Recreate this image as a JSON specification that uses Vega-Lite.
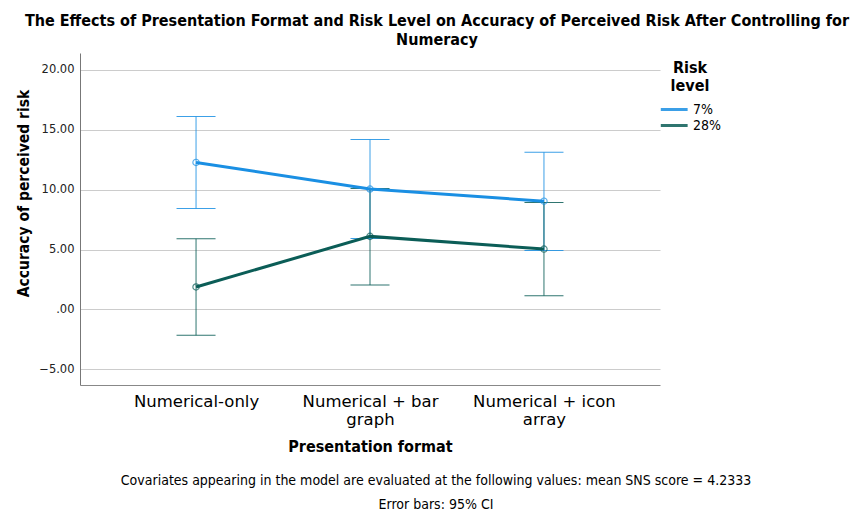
{
  "$schema": "https://vega.github.io/schema/vega-lite/v6.json",
  "autosize": {"type": "none"},
  "padding": {"left": 80, "top": 53, "right": 772, "bottom": 459},
  "background": "white",
  "title": {
    "text": ["The Effects of Presentation Format and Risk Level on Accuracy of Perceived Risk After Controlling for", "Numeracy"],
    "font": "DejaVu Sans Condensed, sans-serif",
    "fontSize": 16,
    "fontWeight": "bold",
    "lineHeight": 19,
    "color": "#000000",
    "anchor": "middle",
    "dx": 53,
    "offset": 5
  },
  "config": {
    "view": {"stroke": null},
    "font": "DejaVu Sans Condensed, sans-serif"
  },
  "vconcat": [
    {
      "width": 580,
      "height": 332,
      "title": {
        "text": "Covariates appearing in the model are evaluated at the following values: mean SNS score = 4.2333",
        "subtitle": "Error bars: 95% CI",
        "orient": "bottom",
        "anchor": "middle",
        "dx": 66,
        "font": "DejaVu Sans Condensed, sans-serif",
        "subtitleFont": "DejaVu Sans Condensed, sans-serif",
        "fontSize": 14,
        "fontWeight": "normal",
        "subtitleFontSize": 14,
        "subtitlePadding": 10,
        "color": "#000000",
        "subtitleColor": "#000000",
        "offset": 19
      },
      "data": {
        "values": [
          {"format": "Numerical-only", "risk": "7%", "mean": 12.27, "lower": 8.43, "upper": 16.10},
          {"format": "Numerical-only", "risk": "28%", "mean": 1.88, "lower": -2.15, "upper": 5.90},
          {"format": "Numerical + bar graph", "risk": "7%", "mean": 10.05, "lower": 5.93, "upper": 14.18},
          {"format": "Numerical + bar graph", "risk": "28%", "mean": 6.10, "lower": 2.04, "upper": 10.10},
          {"format": "Numerical + icon array", "risk": "7%", "mean": 9.04, "lower": 4.93, "upper": 13.12},
          {"format": "Numerical + icon array", "risk": "28%", "mean": 5.04, "lower": 1.15, "upper": 8.93}
        ]
      },
      "encoding": {
        "x": {
          "field": "format",
          "type": "nominal",
          "sort": ["Numerical-only", "Numerical + bar graph", "Numerical + icon array"],
          "scale": {"type": "point", "padding": 0.667},
          "axis": {
            "title": "Presentation format",
            "titleFont": "DejaVu Sans Condensed, sans-serif",
            "titleFontSize": 16,
            "titleFontWeight": "bold",
            "titleColor": "#000000",
            "titlePadding": 11,
            "labelAngle": 0,
            "labelFont": "DejaVu Sans, sans-serif",
            "labelFontSize": 16.5,
            "labelColor": "#000000",
            "labelLineHeight": 18,
            "labelPadding": 8,
            "labelExpr": "datum.value == 'Numerical + bar graph' ? ['Numerical + bar', 'graph'] : datum.value == 'Numerical + icon array' ? ['Numerical + icon', 'array'] : datum.value",
            "ticks": false,
            "domainColor": "#888888",
            "domainWidth": 1,
            "grid": false
          }
        },
        "color": {
          "field": "risk",
          "type": "nominal",
          "sort": ["7%", "28%"],
          "scale": {"domain": ["7%", "28%"], "range": ["#1a8fe3", "#0b5d57"]},
          "legend": {
            "orient": "none",
            "legendX": 579,
            "legendY": 7,
            "title": ["Risk", "level"],
            "titleFont": "DejaVu Sans Condensed, sans-serif",
            "titleFontSize": 16,
            "titleFontWeight": "bold",
            "titleColor": "#000000",
            "titleAnchor": "middle",
            "titleLimit": 60,
            "titleLineHeight": 18,
            "titlePadding": 7,
            "labelFont": "DejaVu Sans Condensed, sans-serif",
            "labelFontSize": 14,
            "labelColor": "#000000",
            "labelOffset": 17,
            "symbolType": "M-1,0H3",
            "symbolStrokeWidth": 3,
            "symbolSize": 180,
            "rowPadding": 0,
            "padding": 0
          }
        }
      },
      "layer": [
        {
          "mark": {"type": "rule", "strokeWidth": 1, "opacity": 0.85},
          "encoding": {
            "y": {
              "field": "lower",
              "type": "quantitative",
              "scale": {"domain": [-6.3, 21.4], "nice": false, "zero": false},
              "axis": {
                "title": "Accuracy of perceived risk",
                "titleFont": "DejaVu Sans Condensed, sans-serif",
                "titleFontSize": 15.5,
                "titleFontWeight": "bold",
                "titleColor": "#000000",
                "titleY": 140,
                "titlePadding": 7,
                "values": [-5, 0, 5, 10, 15, 20],
                "labelExpr": "datum.value == 0 ? '.00' : format(datum.value, '.2f')",
                "labelFont": "DejaVu Sans, sans-serif",
                "labelFontSize": 11.5,
                "labelColor": "#222222",
                "labelPadding": 6,
                "ticks": false,
                "domainColor": "#777777",
                "domainWidth": 1,
                "gridColor": "#cccccc",
                "gridWidth": 1.2
              }
            },
            "y2": {"field": "upper"}
          }
        },
        {
          "mark": {"type": "tick", "thickness": 1, "size": 39, "opacity": 0.85},
          "encoding": {"y": {"field": "upper", "type": "quantitative"}}
        },
        {
          "mark": {"type": "tick", "thickness": 1, "size": 39, "opacity": 0.85},
          "encoding": {"y": {"field": "lower", "type": "quantitative"}}
        },
        {
          "mark": {"type": "line", "strokeWidth": 3},
          "encoding": {"y": {"field": "mean", "type": "quantitative"}}
        },
        {
          "mark": {"type": "point", "filled": false, "size": 40, "strokeWidth": 1.2},
          "encoding": {"y": {"field": "mean", "type": "quantitative"}}
        }
      ]
    }
  ]
}
